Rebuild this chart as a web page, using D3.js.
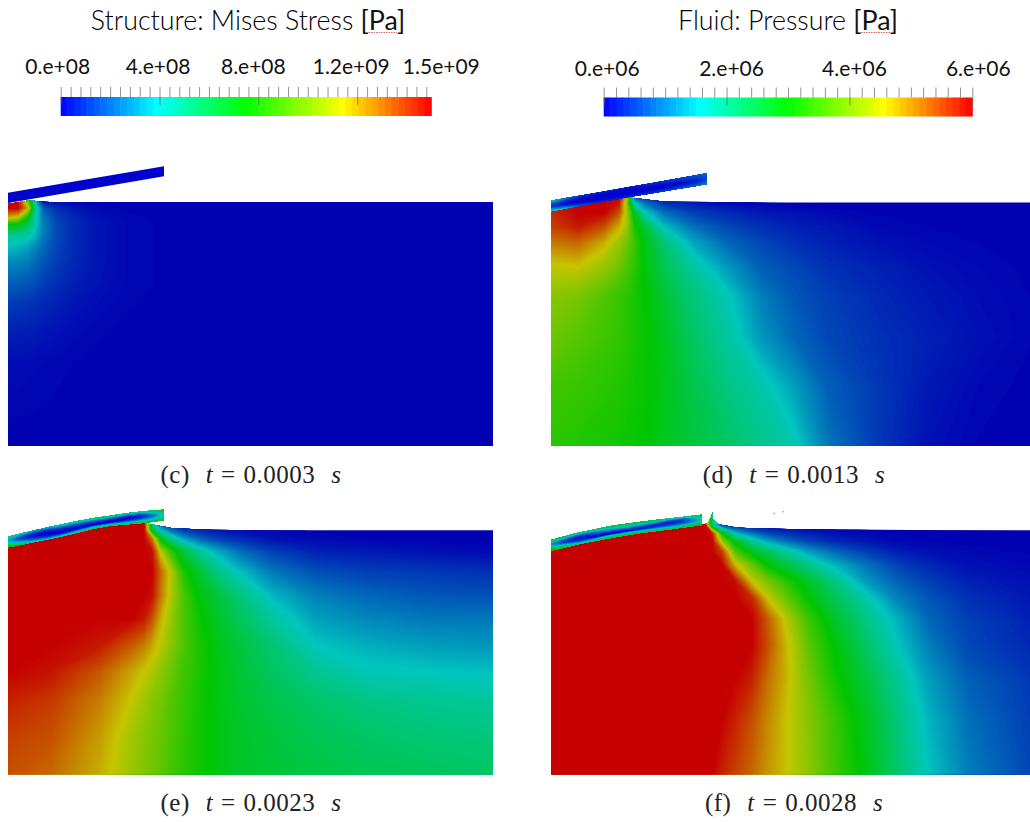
<!DOCTYPE html>
<html>
<head>
<meta charset="utf-8">
<script src="https://cdn.jsdelivr.net/npm/d3@7"></script>
<style>
  html, body { margin: 0; padding: 0; background: #fff; }
  svg { display: block; }
  .title { font-family: Lato, "Open Sans", sans-serif; font-size: 26.8px; font-weight: 300; fill: #000; }
  .barLabel { font-family: Lato, "Open Sans", sans-serif; font-size: 21px; fill: #111; text-anchor: middle; }
  .caption { font-family: "Liberation Serif", serif; font-size: 25px; letter-spacing: 0.5px; word-spacing: 1.2px; fill: #222; text-anchor: middle; }
</style>
</head>
<body>
<div id="plot"></div>
<script>
// Colour bars
var stressTicks = d3.range(0, 1.5e9, 4e7);
var stressMajor = [0, 4e8, 8e8, 1.2e9];
var stressLabelValues = [0, 4e8, 8e8, 1.2e9, 1.5e9];
var stressLabels = ["0.e+08", "4.e+08", "8.e+08", "1.2e+09", "1.5e+09"];
var pressureTicks = d3.range(0, 6.01e6, 2e5);
var pressureMajor = [0, 2e6, 4e6, 6e6];
var pressureLabelValues = [0, 2e6, 4e6, 6e6];
var pressureLabels = ["0.e+06", "2.e+06", "4.e+06", "6.e+06"];

// Field values are percent of the colour bar, read by eye.
// Stations: x = distance from the left wall, y = depth below the free surface.

// (c) t = 0.0003 s
var cX = [0, 10, 20, 27, 35, 48, 65, 88, 118, 158, 300, 485];
var cY = [-4, 0, 6, 15, 23, 33, 43, 60, 80, 103, 126, 160, 244];
var cField = [
  [100, 100, 60, 8, 2, 1, 0.4, 0, 0, 0, 0, 0],
  [100, 100, 62, 25, 4, 2, 1, 0.3, 0, 0, 0, 0],
  [100, 100, 78, 32, 12, 6, 3, 1, 0.3, 0, 0, 0],
  [78, 74, 50, 28, 15, 8.5, 5, 2, 0.8, 0.2, 0, 0],
  [48, 47, 39, 27.5, 16.5, 9.5, 5.5, 2.5, 1, 0.3, 0, 0],
  [31, 30.5, 28.5, 23.5, 16, 9.5, 5.5, 2.5, 1, 0.3, 0, 0],
  [25, 24, 21.5, 18, 14, 9, 5.5, 2.5, 1, 0.3, 0, 0],
  [17, 17, 15.5, 13.5, 11, 8, 5, 2.5, 1, 0.3, 0, 0],
  [12, 12, 11, 10, 8, 6, 4, 2.2, 1, 0.3, 0, 0],
  [7.5, 7, 6.5, 6, 5, 4, 2.5, 1.5, 0.6, 0.2, 0, 0],
  [4.5, 4.2, 4, 3.6, 3, 2.4, 1.5, 0.8, 0.3, 0.1, 0, 0],
  [1.5, 1.5, 1.3, 1.2, 1, 0.8, 0.5, 0.3, 0.1, 0, 0, 0],
  [0, 0, 0, 0, 0, 0, 0, 0, 0, 0, 0, 0]
];
var cSurfaceX = [0, 21, 42, 485];
var cSurfaceY = [2, -1.5, 0, 0];
var cBeamS = [0, 156];
var cBeamTop = [-9.3, -35.7];
var cBeamBottom = [1, -25.7];
var cBeamT = [0, 1];
var cBeamField = [
  [0, 0],
  [0, 0]
];

// (d) t = 0.0013 s
var dX = [0, 27, 53, 68, 76, 83, 93, 113, 143, 177, 210, 243, 277, 327, 377, 427, 479];
var dY = [-6, 0, 10, 24, 40, 64, 94, 134, 184, 244];
var dField = [
  [95, 100, 100, 100, 75, 10, 5, 3, 1, 0, 0, 0, 0, 0, 0, 0, 0],
  [95, 100, 100, 98, 65, 25, 14, 6, 3, 1, 0.5, 0, 0, 0, 0, 0, 0],
  [95, 100, 100, 90, 70, 46, 27, 14, 8, 5, 3, 2, 1, 0.4, 0, 0, 0],
  [92, 97, 90, 78, 70, 54, 43, 24, 14, 9, 6, 4, 3, 1, 0.5, 0, 0],
  [85, 87, 78, 70, 64, 58, 48, 35, 21, 13, 9, 6, 4, 2, 1, 0.5, 0],
  [74, 75, 69, 64, 60, 56, 49, 39, 29, 19, 12, 9, 6, 4, 2, 1, 0.3],
  [67, 65, 60, 57, 55, 53, 50, 43, 34, 26, 16, 11, 8, 5, 3, 1.5, 0.5],
  [64, 61, 58, 56, 55, 53, 51, 46, 37, 29, 19, 13, 9, 6, 4, 2, 0.6],
  [58, 57, 55, 54, 53, 52, 51, 47, 40, 33, 28, 20, 12, 7, 3, 1, 0.2],
  [55, 54, 53, 52, 51, 51, 50, 46, 42, 37, 32, 27, 15, 7, 2, 0.4, 0]
];
var dSurfaceX = [0, 76, 115, 232, 479];
var dSurfaceY = [8.8, -5.2, -0.8, 0, 0];
var dBeamS = [0, 15, 30, 50, 75, 100, 125, 145, 156];
var dBeamTop = [-1.8, -4.4, -7.1, -10.6, -15, -19.3, -23.7, -27.3, -29.2];
var dBeamBottom = [8.8, 6, 3.2, -0.5, -5, -9, -13.2, -16.6, -18.5];
var dBeamT = [0, 0.2, 0.4, 0.6, 0.8, 1];
var dBeamField = [
  [25, 16, 8, 5, 4, 6, 8, 11, 14],
  [16, 7, 3, 1, 1, 3, 5, 8, 12],
  [8, 2, 0, 0, 0, 0, 1, 5, 9],
  [8, 2, 0, 0, 0, 0, 1, 4, 9],
  [18, 10, 4, 1, 1, 3, 5, 8, 12],
  [30, 24, 12, 6, 5, 7, 10, 13, 16]
];

// (e) t = 0.0023 s
var eX = [0, 42, 92, 125, 136, 144, 152, 162, 175, 192, 209, 232, 265, 309, 359, 419, 485];
var eY = [-8, 0, 8, 21, 41, 65, 88, 115, 141, 171, 208, 244];
var eField = [
  [100, 100, 100, 100, 100, 30, 10, 5, 2, 1, 0, 0, 0, 0, 0, 0, 0],
  [100, 100, 100, 100, 100, 45, 25, 15, 8, 5, 3, 2, 1, 0.3, 0, 0, 0],
  [100, 100, 100, 100, 100, 85, 48, 33, 20, 12, 8, 5, 2, 1, 0.4, 0.2, 0],
  [100, 100, 100, 100, 100, 98, 75, 58, 42, 30, 22, 14, 8, 4, 3, 2, 1],
  [100, 100, 100, 100, 100, 100, 88, 74, 54, 43, 33, 24, 15, 10, 8, 7, 6],
  [100, 100, 100, 100, 100, 98, 86, 73, 60, 48, 42, 34, 23, 16, 13, 11, 10],
  [100, 100, 100, 100, 97, 90, 79, 70, 60, 51, 45, 38, 29, 20, 17, 15, 15],
  [100, 100, 97, 88, 84, 79, 74, 68, 60, 53, 47, 42, 35, 25, 22, 20, 19],
  [100, 98, 89, 79, 75, 72, 68, 64, 58, 53, 48, 43, 37, 31, 26, 25, 24],
  [96, 93, 84, 74, 70, 67, 65, 61, 57, 52, 48, 44, 40, 36, 33, 31, 30],
  [92, 90, 80, 70, 67, 65, 63, 60, 56, 52, 48, 45, 42, 39, 37, 35, 34],
  [90, 87, 78, 69, 66, 64, 62, 59, 55, 52, 48, 45, 43, 41, 39, 38, 37]
];
var eSurfaceX = [0, 35, 50, 79, 92, 119, 136, 165, 202, 258, 485];
var eSurfaceY = [17, 10, 7, 0, -3.6, -6, -7.3, -2, -0.6, 0, 0];
var eBeamS = [0, 35, 50, 79, 92, 119, 136, 156];
var eBeamTop = [6.4, -2, -5, -11.3, -13, -17, -19, -20.6];
var eBeamBottom = [17, 10, 7, 0, -3.6, -6, -7.3, -10.3];
var eBeamGridS = [0, 12, 25, 39, 52, 69, 85, 102, 119, 132, 145, 156];
var eBeamT = [0, 0.17, 0.33, 0.5, 0.67, 0.83, 1];
var eBeamField = [
  [35, 28, 22, 22, 30, 36, 38, 38, 34, 32, 38, 50],
  [26, 16, 10, 8, 14, 16, 18, 18, 12, 12, 26, 42],
  [20, 8, 2, 2, 6, 8, 10, 8, 3, 5, 16, 30],
  [24, 10, 3, 0, 2, 3, 3, 1, 1, 5, 14, 28],
  [32, 18, 8, 2, 0, 0, 0, 0, 6, 12, 20, 30],
  [42, 28, 16, 10, 8, 14, 18, 18, 20, 26, 30, 38],
  [55, 42, 32, 26, 30, 36, 38, 40, 40, 42, 45, 48]
];

// (f) t = 0.0028 s
var fX = [0, 94, 154, 161, 171, 184, 201, 217, 234, 257, 284, 314, 344, 377, 417, 479];
var fY = [-20, -5, 3, 11, 21, 35, 51, 68, 88, 115, 148, 188, 244];
var fField = [
  [100, 100, 100, 35, 3, 1, 0, 0, 0, 0, 0, 0, 0, 0, 0, 0],
  [100, 100, 100, 35, 10, 5, 2, 1, 0.5, 0, 0, 0, 0, 0, 0, 0],
  [100, 100, 100, 97, 50, 24, 15, 9, 6, 4, 2, 1, 0.4, 0.2, 0, 0],
  [100, 100, 100, 100, 70, 47, 31, 21, 15, 9, 5, 3, 1, 0.5, 0.2, 0],
  [100, 100, 100, 100, 92, 60, 46, 38, 30, 20, 13, 8, 4, 2, 1, 0.3],
  [100, 100, 100, 100, 100, 78, 63, 50, 42, 33, 23, 15, 9, 5, 2, 1],
  [100, 100, 100, 100, 100, 99, 75, 65, 56, 45, 33, 20, 13, 8, 4, 2],
  [100, 100, 100, 100, 100, 100, 95, 75, 64, 50, 39, 28, 17, 11, 6, 3],
  [100, 100, 100, 100, 100, 100, 100, 88, 74, 58, 44, 33, 23, 13, 8, 4],
  [100, 100, 100, 100, 100, 100, 100, 90, 78, 62, 49, 37, 26, 16, 9, 5],
  [100, 100, 100, 100, 100, 100, 96, 86, 78, 65, 52, 42, 31, 20, 12, 7],
  [100, 100, 100, 100, 100, 96, 90, 83, 76, 67, 57, 46, 35, 23, 14, 8],
  [100, 100, 100, 100, 96, 92, 87, 81, 76, 68, 58, 48, 37, 25, 16, 9]
];
var fSurfaceX = [0, 27, 37, 61, 87, 111, 151, 157, 162, 161, 167, 187, 237, 361, 479];
var fSurfaceY = [20.4, 14, 12, 7.5, 3, 0, -5.3, -7, -18, -12, -6, -2.6, -1.3, -0.3, 0];
var fBeamS = [0, 27, 37, 61, 87, 111, 151];
var fBeamTop = [9.7, 2.4, 0.5, -4.6, -8, -11, -15.6];
var fBeamBottom = [20.4, 14, 12, 7.5, 3, 0, -5.3];
var fBeamGridS = [0, 14, 27, 41, 57, 74, 91, 107, 121, 134, 151];
var fBeamT = [0, 0.17, 0.33, 0.5, 0.67, 0.83, 1];
var fBeamField = [
  [45, 40, 35, 35, 42, 45, 45, 42, 32, 30, 45],
  [30, 20, 15, 18, 25, 28, 28, 22, 10, 14, 35],
  [18, 8, 4, 10, 15, 18, 14, 6, 2, 8, 28],
  [20, 6, 3, 3, 3, 5, 6, 5, 6, 10, 25],
  [30, 14, 6, 1, 0, 0, 4, 10, 12, 15, 28],
  [45, 30, 14, 18, 30, 28, 25, 25, 25, 30, 35],
  [55, 45, 35, 36, 44, 44, 44, 42, 40, 42, 50]
];
var fSpecksX = [223, 232];
var fSpecksY = [-17, -18.5];

var svgWidth = 1030;
var svgHeight = 822;

var svg = d3.select("#plot")
  .append("svg")
  .attr("width", svgWidth)
  .attr("height", svgHeight);

// Rainbow maps, the rendered fields are shaded darker than the bars
var levelStops = [0, 25, 50, 75, 100];
var barColor = d3.scaleLinear().domain([0, 26, 50, 76, 100])
  .range(["rgb(0,0,255)", "rgb(0,255,255)", "rgb(0,255,0)", "rgb(255,255,0)", "rgb(255,0,0)"]);
var fieldColor = d3.scaleLinear().domain(levelStops)
  .range(["rgb(0,0,178)", "rgb(0,198,190)", "rgb(0,198,0)", "rgb(198,198,0)", "rgb(198,0,0)"]);
var beamColor = d3.scaleLinear().domain(levelStops)
  .range(["rgb(0,0,205)", "rgb(0,198,200)", "rgb(0,198,0)", "rgb(198,198,0)", "rgb(198,0,0)"]);
var levels = d3.range(0, 100.01, 0.5);

// Grid index -> data coordinate. d3.contours puts value i at i + 0.5
function stationScale(stations) {
  return d3.scaleLinear()
    .domain(stations.map((s, i) => i + 0.5))
    .range(stations)
    .clamp(true);
}

function drawContours(group, grid, nx, ny, project, colour) {
  var contours = d3.contours().size([nx, ny]).thresholds(levels)(grid.flat());
  var path = d3.geoPath(d3.geoTransform({
    point: function (x, y) {
      var p = project(x, y);
      this.stream.point(p[0], p[1]);
    }
  }));
  group.selectAll("path")
    .data(contours)
    .enter()
    .append("path")
    .attr("d", path)
    .attr("fill", d => colour(Math.min(d.value + 0.25, 100)));
}

function drawPanel(panel) {
  var xScale = d3.scaleLinear().domain([0, panel.width]).range([panel.left, panel.left + panel.width]);
  var yScale = d3.scaleLinear().domain([0, panel.height]).range([panel.surface, panel.surface + panel.height]);

  // Fluid, cut along its free surface
  var outline = panel.surfaceX.map((x, i) => [xScale(x), yScale(panel.surfaceY[i])]);
  outline.push([xScale(panel.width), yScale(panel.height)], [xScale(0), yScale(panel.height)]);
  svg.append("clipPath")
    .attr("id", panel.id)
    .append("path")
    .attr("d", d3.line()(outline) + "Z");

  var xIndex = stationScale(panel.x);
  var yIndex = stationScale(panel.y);
  var fluid = svg.append("g").attr("clip-path", `url(#${panel.id})`);
  drawContours(fluid, panel.field, panel.x.length, panel.y.length,
    (x, y) => [xScale(xIndex(x)), yScale(yIndex(y))], fieldColor);

  // Structure, values sit on a grid that follows the beam
  var top = d3.scaleLinear().domain(panel.beamS).range(panel.beamTop);
  var bottom = d3.scaleLinear().domain(panel.beamS).range(panel.beamBottom);
  var sIndex = stationScale(panel.beamGridS);
  var tIndex = stationScale(panel.beamT);
  var beam = svg.append("g");
  drawContours(beam, panel.beamField, panel.beamGridS.length, panel.beamT.length, function (x, y) {
    var s = sIndex(x);
    var t = tIndex(y);
    return [xScale(s), yScale(top(s) + (bottom(s) - top(s)) * t)];
  }, beamColor);

  if (panel.specksX) {
    svg.selectAll(".speck")
      .data(panel.specksX)
      .enter()
      .append("circle")
      .attr("class", "speck")
      .attr("cx", d => xScale(d))
      .attr("cy", (d, i) => yScale(panel.specksY[i]))
      .attr("r", 0.8)
      .attr("fill", "#8a96b8");
  }

  var caption = svg.append("text")
    .attr("class", "caption")
    .attr("x", panel.captionX)
    .attr("y", panel.captionY)
    .attr("xml:space", "preserve");
  caption.append("tspan").text(`(${panel.tag})  `);
  caption.append("tspan").attr("font-style", "italic").text("t");
  caption.append("tspan").text(` = ${panel.time}  `);
  caption.append("tspan").attr("font-style", "italic").text("s");
}

function drawBar(bar) {
  var xScale = d3.scaleLinear().domain(bar.domain).range(bar.range);
  var bands = 56;
  var bandWidth = (bar.barEnd - bar.range[0]) / bands;
  svg.append("g").selectAll("rect")
    .data(d3.range(bands))
    .enter()
    .append("rect")
    .attr("x", d => bar.range[0] + d * bandWidth)
    .attr("y", bar.top)
    .attr("width", bandWidth + 0.5)
    .attr("height", 19)
    .attr("fill", d => barColor((d + 0.5) / bands * 100));

  // Minor ticks above the bar, major ones run into it
  var axis = svg.append("g")
    .attr("transform", `translate(0, ${bar.top})`)
    .call(d3.axisTop(xScale).tickValues(bar.ticks).tickSize(10).tickFormat(""));
  axis.select(".domain").remove();
  axis.selectAll("line").attr("stroke", "#777").attr("stroke-width", 0.8);

  svg.append("g")
    .attr("transform", `translate(0, ${bar.top})`)
    .call(d3.axisBottom(xScale).tickValues(bar.major).tickSize(8).tickFormat(""))
    .call(g => g.select(".domain").remove())
    .selectAll("line")
    .attr("stroke", "#666")
    .attr("stroke-width", 0.8);

  svg.selectAll(`.label-${bar.id}`)
    .data(bar.labels)
    .enter()
    .append("text")
    .attr("class", `barLabel label-${bar.id}`)
    .attr("x", (d, i) => xScale(bar.labelValues[i]) + bar.labelShift[i])
    .attr("y", bar.labelY)
    .text(d => d);

  var title = svg.append("text")
    .attr("class", "title")
    .attr("x", bar.titleX)
    .attr("y", bar.titleY)
    .attr("text-anchor", "middle");
  title.append("tspan").text(bar.title + " ");
  title.append("tspan").attr("font-weight", 400).attr("fill", "#111").text("[Pa]");

  // Spell checker squiggle left under the unit
  svg.append("line")
    .attr("x1", bar.squiggle[0])
    .attr("x2", bar.squiggle[1])
    .attr("y1", bar.titleY + 2.5)
    .attr("y2", bar.titleY + 2.5)
    .attr("stroke", "#d96a6a")
    .attr("stroke-width", 1)
    .attr("stroke-dasharray", "1.5 1");
}

drawBar({
  id: "stress", domain: [0, 1.5e9], range: [60.7, 431.3], barEnd: 431.3, top: 97,
  ticks: stressTicks, major: stressMajor, labels: stressLabels, labelValues: stressLabelValues,
  labelShift: [-3, -1.5, -5, -6, 10], labelY: 74,
  title: "Structure: Mises Stress", titleX: 248, titleY: 30, squiggle: [366, 397]
});
drawBar({
  id: "pressure", domain: [0, 6e6], range: [603.7, 972.3], barEnd: 972.3, top: 97.5,
  ticks: pressureTicks, major: pressureMajor, labels: pressureLabels, labelValues: pressureLabelValues,
  labelShift: [3.5, 5, 5, 6], labelY: 76,
  title: "Fluid: Pressure", titleX: 788, titleY: 30, squiggle: [861, 892]
});

drawPanel({
  id: "panelC", tag: "c", time: "0.0003", left: 8, surface: 202, width: 485, height: 244,
  x: cX, y: cY, field: cField, surfaceX: cSurfaceX, surfaceY: cSurfaceY,
  beamS: cBeamS, beamGridS: cBeamS, beamT: cBeamT, beamTop: cBeamTop, beamBottom: cBeamBottom, beamField: cBeamField,
  captionX: 251, captionY: 483
});
drawPanel({
  id: "panelD", tag: "d", time: "0.0013", left: 551, surface: 202.5, width: 479, height: 243.5,
  x: dX, y: dY, field: dField, surfaceX: dSurfaceX, surfaceY: dSurfaceY,
  beamS: dBeamS, beamGridS: dBeamS, beamT: dBeamT, beamTop: dBeamTop, beamBottom: dBeamBottom, beamField: dBeamField,
  captionX: 794, captionY: 483
});
drawPanel({
  id: "panelE", tag: "e", time: "0.0023", left: 8, surface: 530.3, width: 485, height: 244.2,
  x: eX, y: eY, field: eField, surfaceX: eSurfaceX, surfaceY: eSurfaceY,
  beamS: eBeamS, beamGridS: eBeamGridS, beamT: eBeamT, beamTop: eBeamTop, beamBottom: eBeamBottom, beamField: eBeamField,
  captionX: 251, captionY: 811
});
drawPanel({
  id: "panelF", tag: "f", time: "0.0028", left: 551, surface: 530.3, width: 479, height: 244.2,
  x: fX, y: fY, field: fField, surfaceX: fSurfaceX, surfaceY: fSurfaceY,
  beamS: fBeamS, beamGridS: fBeamGridS, beamT: fBeamT, beamTop: fBeamTop, beamBottom: fBeamBottom, beamField: fBeamField,
  specksX: fSpecksX, specksY: fSpecksY,
  captionX: 794, captionY: 811
});
</script>
</body>
</html>
